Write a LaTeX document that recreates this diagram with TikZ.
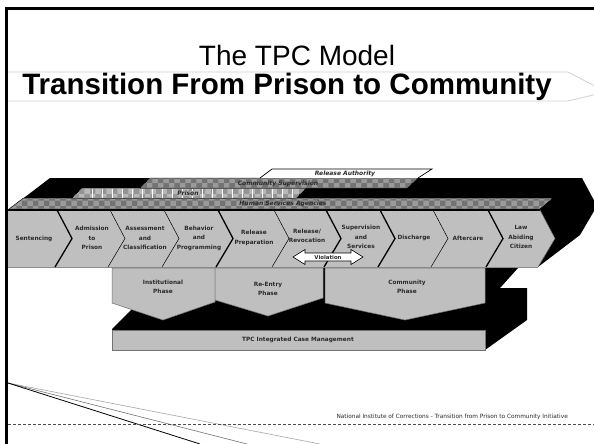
\documentclass[tikz,border=0pt]{standalone}
\usepackage{fontspec}
\setmainfont{Liberation Sans}
\newfontfamily\dv{DejaVu Sans}
\usetikzlibrary{patterns}
\definecolor{boxgray}{HTML}{BFBFBF}
\definecolor{bandgray}{HTML}{9A9A9A}
\definecolor{txtgray}{HTML}{2A2A2A}
\begin{document}
\begin{tikzpicture}[x=1pt,y=-1pt,
  chev/.style={font=\dv\bfseries\fontsize{5.8}{9.5}\selectfont, text=txtgray, align=center, inner sep=0pt},
  bandlbl/.style={font=\dv\bfseries\itshape\fontsize{6}{7}\selectfont, text=txtgray, inner sep=0.5pt},
  phase/.style={fill=boxgray, draw=black!55, line width=0.5pt},
  checker/.style={fill=bandgray, postaction={pattern=checkerboard, pattern color=black!55}},
  lchecker/.style={fill=black!28, postaction={pattern=checkerboard, pattern color=black!42}},
  thickb/.style={line width=1.3pt},
  thinb/.style={line width=0.5pt}]
\useasboundingbox (0,0) rectangle (594,444);
\clip (0,0) rectangle (594,444);
\fill[white] (0,0) rectangle (594,444);

% frame
\draw[line width=3pt] (6.5,444) -- (6.5,9) -- (594,9);

% title band
\draw[black!18, line width=0.8pt] (8,72) -- (568,72) -- (606,92) -- (568,101) -- (8,101);
\node (title) at (297,55) {\fontsize{28}{30}\selectfont The TPC Model};
\node (subtitle) at (287,87) {\fontsize{29.5}{31}\selectfont\bfseries Transition From Prison to Community};

% upper slab backdrop
\fill[black] (8,210) -- (50,178) -- (582,178) -- (597,206) -- (580,235) -- (538,267) -- (8,267) -- cycle;

% bands
\path[checker, draw=black, thinb] (9,209) -- (23.5,198) -- (553,198) -- (540,209) -- cycle;
\path[lchecker, draw=black, thinb] (72,198) -- (82,188) -- (306,188) -- (296,198) -- cycle;
\foreach \x in {92,102,...,292} \draw[white, line width=0.45pt] (\x,188.5) -- (\x,197.5);
\path[checker, draw=black, thinb] (140,188) -- (150,178) -- (418,178) -- (407,188) -- cycle;
\path[fill=white, draw=black, line width=0.7pt] (260,178) -- (272,169) -- (432,169) -- (418,178);

\node[bandlbl] (ra) at (345,173.5) {Release Authority};
\node[bandlbl] (cs) at (278,183.5) {Community Supervision};
\node[bandlbl, fill=black!30] (pr) at (188,193.5) {Prison};
\node[bandlbl] (hs) at (283,203.5) {Human Services Agencies};

% chevron row
\fill[boxgray] (8,210) -- (540,210) -- (555,238.5) -- (538,267) -- (8,267) -- cycle;
\draw[black!45, line width=0.6pt] (8,267) -- (538,267);
\draw[black, line width=1.2pt] (8,210) -- (540,210);
\foreach \x/\s in {57/thickb,110/thinb,164/thinb,218/thickb,274/thinb,326/thickb,380/thickb,433/thinb,488/thickb}
  \draw[\s] (\x,210) -- (\x+15,238.5) -- (\x-2,267);
\draw[black!60, thinb] (540,210) -- (555,238.5) -- (538,267);

\node[chev] (c1) at (34,239) {Sentencing};
\node[chev] (c2) at (92,238) {Admission\\to\\Prison};
\node[chev] (c3) at (145,238) {Assessment\\and\\Classification};
\node[chev] (c4) at (199,238) {Behavior\\and\\Programming};
\node[chev] (c5) at (254,238) {Release\\Preparation};
\node[chev] (c6) at (307,236) {Release/\\Revocation};
\node[chev] (c7) at (361,237) {Supervision\\and\\Services};
\node[chev] (c8) at (414,238) {Discharge};
\node[chev] (c9) at (468,238) {Aftercare};
\node[chev] (c10) at (521,237) {Law\\Abiding\\Citizen};

% violation arrow
\path[fill=white, draw=black, line width=0.6pt]
  (293,257) -- (305,249.5) -- (305,253) -- (351,253) -- (351,249.5) -- (363,257)
  -- (351,264.5) -- (351,261) -- (305,261) -- (305,264.5) -- cycle;
\node[chev, font=\dv\bfseries\fontsize{5.4}{6}\selectfont] (viol) at (328,257) {Violation};

% lower slab backdrop
\fill[black] (112,329) -- (150,291) -- (150,268) -- (518,268) -- (500,288) -- (527,288) -- (527,320) -- (485,350) -- (112,350) -- cycle;

% phases
\path[phase] (112,268) -- (215,268) -- (215,302) -- (163,320) -- (112,303) -- cycle;
\path[phase] (215,268) -- (323,268) -- (323,298) -- (268,316) -- (215,300) -- cycle;
\path[phase] (325,268) -- (485,268) -- (485,303) -- (405,320) -- (325,303) -- cycle;
\node[chev] (ph1) at (163,287) {Institutional\\Phase};
\node[chev] (ph2) at (268,289) {Re-Entry\\Phase};
\node[chev] (ph3) at (407,287) {Community\\Phase};

% case management box
\path[phase] (112,330) rectangle (485,350);
\node[chev] (tpc) at (298,340) {TPC Integrated Case Management};

% bottom decoration
\coordinate (o) at (8,383);
\coordinate (e1) at (200,444);
\coordinate (e2) at (247,444);
\coordinate (e3) at (320,444);
\draw[black!35, line width=0.6pt] (o) -- (e3);
\draw[black!55, line width=0.6pt] (o) -- (e2);
\draw[black, line width=0.8pt] (o) -- (e1);
\draw[black!70, line width=0.7pt, dash pattern=on 3pt off 2pt] (8,424) -- (594,424);
\node[font=\dv\fontsize{5.8}{7}\selectfont, text=txtgray, anchor=east, inner sep=0pt] (foot) at (568,417) {National Institute of Corrections - Transition from Prison to Community Initiative};
\end{tikzpicture}
\end{document}
